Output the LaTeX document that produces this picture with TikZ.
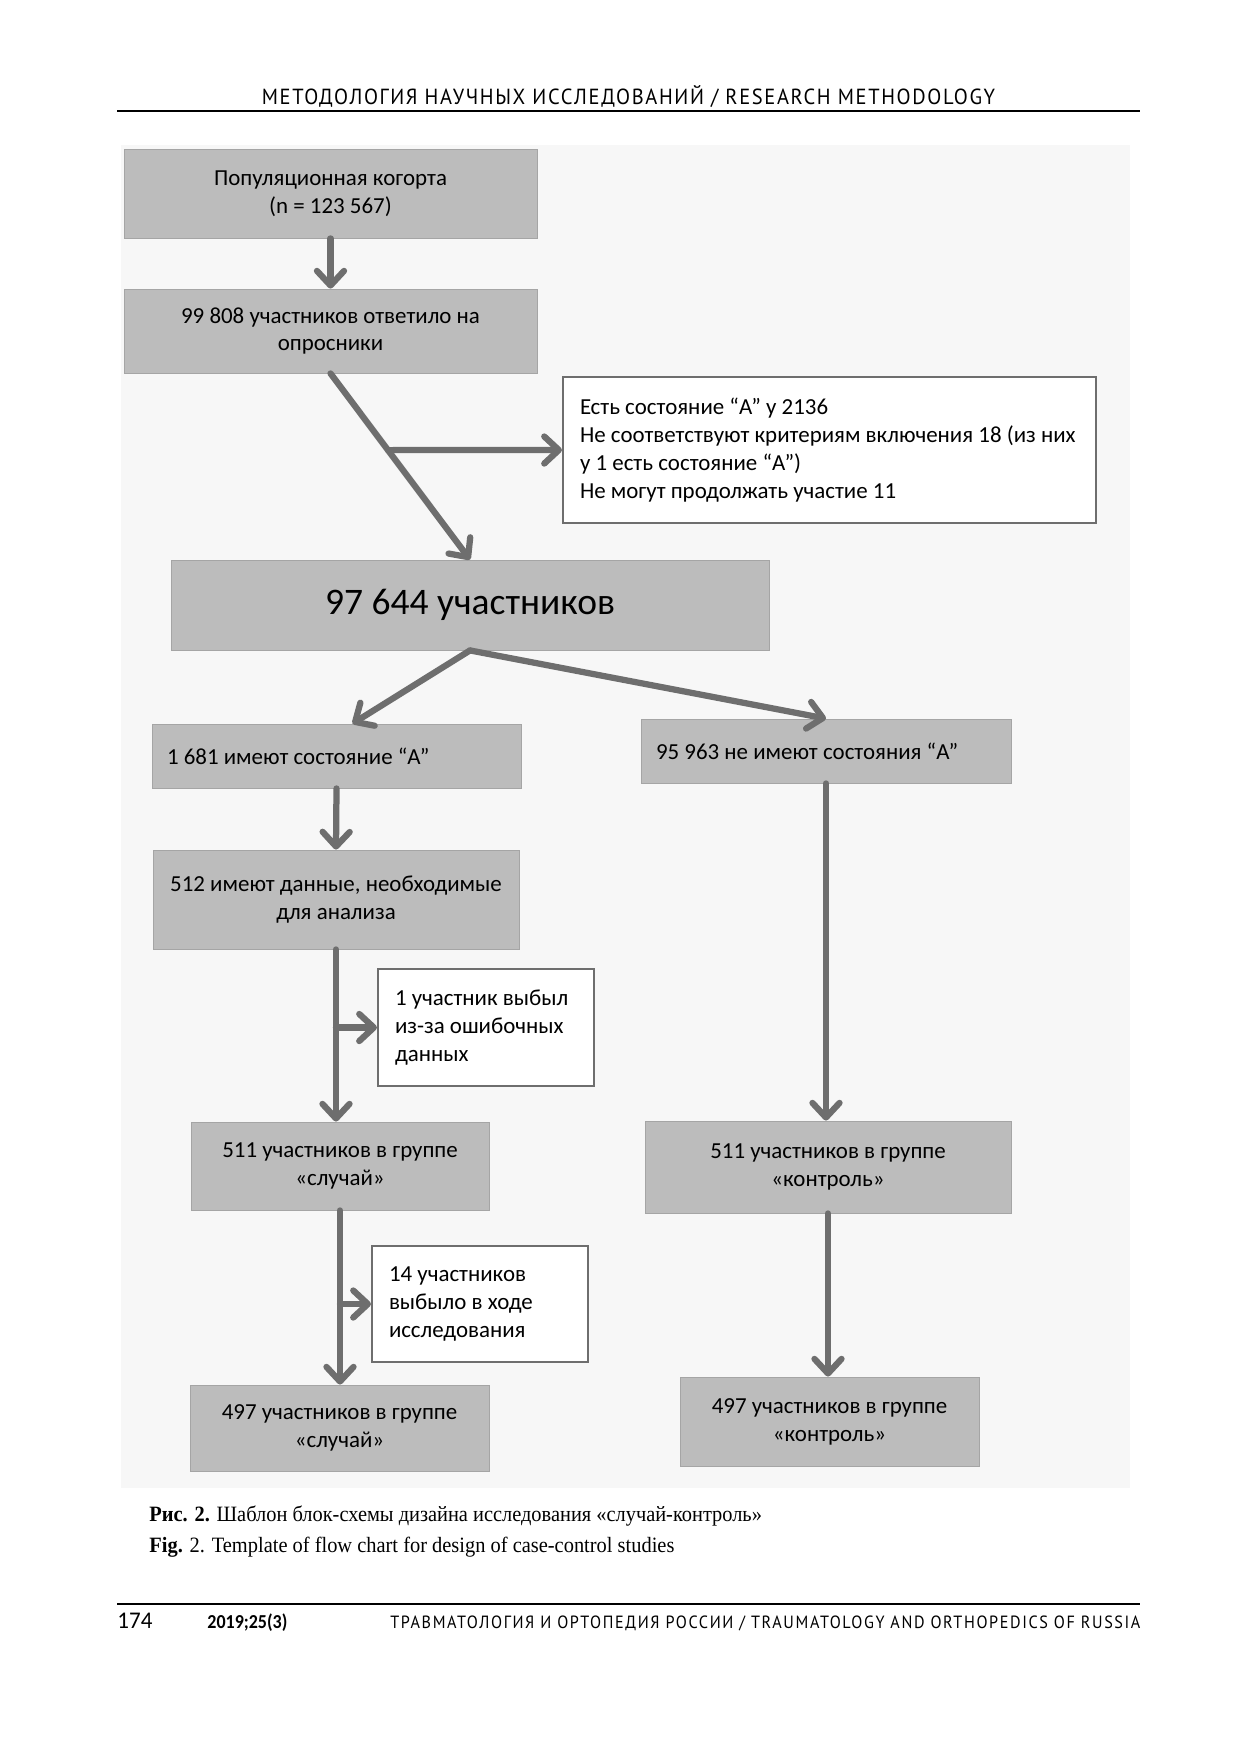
\documentclass[tikz,border=0pt]{standalone}
\usepackage{fontspec}
\usepackage{graphicx}
\setmainfont{Carlito}
\newfontfamily\hdrfont{PT Sans}
\newfontfamily\capfont{Liberation Serif}
\usetikzlibrary{arrows.meta,calc}
\definecolor{boxgray}{HTML}{BCBCBC}
\definecolor{linegray}{HTML}{6E6E6E}
\definecolor{bggray}{HTML}{F7F7F7}
\begin{document}
\begin{tikzpicture}[x=0.48pt,y=-0.48pt,
  sz/.style 2 args={minimum width=#1*0.48pt, minimum height=#2*0.48pt},
  gbox/.style={fill=boxgray, draw=boxgray!88!black, line width=0.4pt, inner sep=0pt, align=center,
    font=\fontsize{11}{13.4}\selectfont},
  lbox/.style={inner xsep=15*0.48pt, inner ysep=0pt, align=left,
    execute at begin node={\spaceskip=0pt\xspaceskip=0pt\relax}},
  wbox/.style={fill=white, draw=linegray, line width=1pt, inner xsep=17*0.48pt, inner ysep=0pt,
    align=left, font=\fontsize{11}{13.4}\selectfont,
    execute at begin node={\spaceskip=0pt\xspaceskip=0pt\relax}},
  arr/.style={draw=linegray, line width=3pt, line cap=round,
    -{Straight Barb[length=7pt,width=13pt,round]}},
  hdr/.style={inner sep=0pt, anchor=base}]
\useasboundingbox (0,0) rectangle (1241,1754);
\fill[white] (0,0) rectangle (1241,1754);
\fill[bggray] (121,145) rectangle (1130,1488);

% header
\node[hdr, font=\hdrfont\fontsize{10.5}{12}\selectfont] (head) at (628.5,104)
  {\resizebox{352pt}{\height}{\addfontfeature{LetterSpace=8}МЕТОДОЛОГИЯ НАУЧНЫХ ИССЛЕДОВАНИЙ / RESEARCH METHODOLOGY}};
\draw[line width=0.7pt] (117,111) -- (1140,111);

% boxes
\node[gbox, sz={413}{89}] (b1) at (330.5,193.5) {Популяционная когорта\\(n = 123 567)};
\node[gbox, sz={413}{84}] (b2) at (330.5,331) {99 808 участников ответило на\\опросники};
\node[wbox, text width=499*0.48pt, minimum height=146*0.48pt] (excl) at (829.5,450)
  {Есть состояние “А” у 2136\\Не соответствуют критериям включения 18 (из них\\у 1 есть состояние “А”)\\Не могут продолжать участие 11};
\node[gbox, sz={598}{90}, font=\fontsize{18}{22}\selectfont] (b97) at (470,605) {97 644 участников};
\node[gbox, lbox, text width=339*0.48pt, minimum height=64*0.48pt] (b1681) at (336.5,756) {1 681 имеют состояние “А”};
\node[gbox, lbox, text width=340*0.48pt, minimum height=64*0.48pt] (b95963) at (826,751) {95 963 не имеют состояния “А”};
\node[gbox, sz={366}{99}] (b512) at (336,899.5) {512 имеют данные, необходимые\\для анализа};
\node[wbox, text width=182*0.48pt, minimum height=117*0.48pt] (b1u) at (486,1027.5) {1 участник выбыл\\из-за ошибочных\\данных};
\node[gbox, sz={298}{88}] (b511s) at (340,1166) {511 участников в группе\\«случай»};
\node[gbox, sz={366}{92}] (b511k) at (828,1167) {511 участников в группе\\«контроль»};
\node[wbox, text width=182*0.48pt, minimum height=116*0.48pt] (b14) at (480,1304) {14 участников\\выбыло в ходе\\исследования};
\node[gbox, sz={299}{86}] (b497s) at (339.5,1428) {497 участников в группе\\«случай»};
\node[gbox, sz={299}{89}] (b497k) at (829.5,1421.5) {497 участников в группе\\«контроль»};

% connectors
\coordinate (br1) at ($(b2.south)!0.412!(b97.north)$);
\coordinate (t1681) at ($(b1681.north)+(16,0)$);
\draw[arr] (b1.south) -- (b2.north);
\draw[arr] (b2.south) -- (b97.north);
\draw[arr] (br1) -- (excl.west);
\draw[arr] (b97.south) -- (t1681);
\draw[arr] (b97.south) -- (b95963.north);
\draw[arr] (b1681.south) -- (b512.north);
\draw[arr] (b512.south) -- (b512.south |- b511s.north);
\draw[arr] (b512.south |- b1u.west) -- (b1u.west);
\draw[arr] (b511s.south) -- (b511s.south |- b497s.north);
\draw[arr] (b511s.south |- b14.west) -- (b14.west);
\draw[arr] (b95963.south) -- (b95963.south |- b511k.north);
\draw[arr] (b511k.south) -- (b511k.south |- b497k.north);

% caption
\node[hdr, anchor=base west, font=\capfont\fontsize{10.5}{12}\selectfont] (cap1) at (149,1521)
  {\resizebox{294pt}{\height}{\textbf{Рис. 2.} Шаблон блок-схемы дизайна исследования «случай-контроль»}};
\node[hdr, anchor=base west, font=\capfont\fontsize{10.5}{12}\selectfont] (cap2) at (149,1552)
  {\resizebox{252pt}{\height}{\textbf{Fig.} 2. Template of flow chart for design of case-control studies}};

% footer
\draw[line width=0.7pt] (117,1604) -- (1140,1604);
\node[hdr, anchor=base west, font=\fontsize{11.5}{13}\selectfont] (pg) at (117,1628) {\resizebox{16.8pt}{\height}{174}};
\node[hdr, anchor=base west, font=\bfseries\fontsize{9.5}{11}\selectfont] (yr) at (207,1628) {\resizebox{38.4pt}{\height}{2019;25(3)}};
\node[hdr, anchor=base west, font=\hdrfont\fontsize{8.5}{10}\selectfont] (jr) at (390,1628)
  {\resizebox{360pt}{\height}{\addfontfeature{LetterSpace=10}ТРАВМАТОЛОГИЯ И ОРТОПЕДИЯ РОССИИ / TRAUMATOLOGY AND ORTHOPEDICS OF RUSSIA}};
\end{tikzpicture}
\end{document}
